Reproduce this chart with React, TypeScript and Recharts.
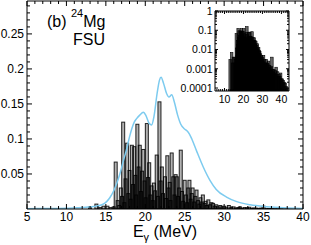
import { Bar, ComposedChart, Line, XAxis, YAxis } from "recharts"

const FONT = '"Liberation Sans", Arial, sans-serif'

// transitions: [E (MeV), strength]
const onsetLines: [number, number][] = [
  [13.0, 0.003], [13.8, 0.007], [14.3, 0.002], [14.7, 0.004], [15.2, 0.004], [15.6, 0.002],
  [16.0, 0.003], [16.25, 0.067], [16.5, 0.012], [16.7, 0.005], [16.9, 0.03], [17.05, 0.018],
  [17.2, 0.124], [17.35, 0.009], [17.5, 0.043], [17.7, 0.094], [17.85, 0.022], [18.0, 0.055],
  [18.15, 0.014], [18.3, 0.091], [18.45, 0.035], [18.6, 0.089], [18.75, 0.048], [18.85, 0.02],
]

const peakLines: [number, number][] = [
  [19.0, 0.121], [19.15, 0.06], [19.3, 0.091], [19.45, 0.025], [19.6, 0.054], [19.75, 0.085],
  [19.9, 0.04], [20.05, 0.016], [20.2, 0.122], [20.35, 0.045], [20.5, 0.066], [20.65, 0.02],
  [20.8, 0.033], [20.95, 0.012], [21.1, 0.037], [21.25, 0.026], [21.45, 0.077], [21.6, 0.018],
  [21.8, 0.153], [21.95, 0.04], [22.1, 0.06], [22.25, 0.022], [22.5, 0.046], [22.65, 0.015],
  [22.8, 0.076], [22.95, 0.03], [23.1, 0.038], [23.2, 0.012], [23.35, 0.08], [23.55, 0.046],
  [23.7, 0.02], [23.85, 0.049], [24.0, 0.046], [24.15, 0.018], [24.3, 0.03], [24.5, 0.084],
  [24.65, 0.025], [24.8, 0.011], [25.0, 0.041], [25.15, 0.02], [25.3, 0.009], [25.45, 0.03],
  [25.6, 0.041], [25.75, 0.014], [25.9, 0.022], [26.0, 0.03], [26.2, 0.01], [26.35, 0.018],
  [26.5, 0.027], [26.7, 0.012], [26.85, 0.007], [27.0, 0.016], [27.15, 0.01], [27.3, 0.02],
  [27.5, 0.008], [27.65, 0.011], [27.8, 0.005], [28.0, 0.013],
]

const tailLines: [number, number][] = [
  [28.2, 0.006], [28.4, 0.009], [28.6, 0.008], [28.8, 0.004], [29.0, 0.006], [29.2, 0.003],
  [29.5, 0.005], [29.7, 0.003], [30.0, 0.004], [30.3, 0.0025], [30.6, 0.005], [30.9, 0.002],
  [31.2, 0.003], [31.5, 0.0015], [31.8, 0.002], [32.0, 0.003], [32.3, 0.0012], [32.6, 0.002],
  [32.9, 0.0018], [33.2, 0.0025], [33.5, 0.001], [33.8, 0.0015], [34.1, 0.0012], [34.4, 0.0008],
  [34.7, 0.0013], [35.0, 0.004], [35.4, 0.0009], [35.7, 0.0007], [36.0, 0.0009], [36.4, 0.0006],
  [36.8, 0.0008], [37.2, 0.0012], [37.6, 0.0005], [38.0, 0.0007], [38.4, 0.0004], [38.8, 0.0005],
  [39.2, 0.0004], [39.6, 0.0006], [40.0, 0.0003], [40.5, 0.0003], [41.0, 0.00025], [41.5, 0.0002],
  [42.0, 0.00018], [42.5, 0.00012], [43.0, 0.0001],
]

// smoothed strength function
const envelope: [number, number][] = [
  [5, 0.0005], [8, 0.0007], [10, 0.001], [11.5, 0.0018], [12.5, 0.0025], [13.5, 0.0035],
  [14.5, 0.006], [15.1, 0.0105], [15.5, 0.016], [16, 0.026], [16.4, 0.037], [16.8, 0.051],
  [17.2, 0.068], [17.65, 0.086], [18, 0.103], [18.3, 0.115], [18.6, 0.124], [18.9, 0.129],
  [19.3, 0.134], [19.75, 0.138], [20.1, 0.133], [20.5, 0.122], [20.8, 0.12], [21.1, 0.132],
  [21.5, 0.165], [21.8, 0.184], [22.0, 0.188], [22.3, 0.18], [22.7, 0.165], [23.0, 0.16],
  [23.35, 0.163], [23.7, 0.152], [24.1, 0.134], [24.5, 0.121], [24.9, 0.115], [25.25, 0.112],
  [25.6, 0.107], [25.9, 0.1], [26.5, 0.083], [27.35, 0.06], [28.2, 0.041], [29, 0.028],
  [30.3, 0.017], [31.6, 0.0105], [33.3, 0.006], [35.4, 0.0033], [37.5, 0.0017], [40, 0.0008],
]

const X_TICKS = [5, 10, 15, 20, 25, 30, 35, 40]
const X_MINOR = [6, 7, 8, 9, 11, 12, 13, 14, 16, 17, 18, 19, 21, 22, 23, 24, 26, 27, 28, 29, 31, 32, 33, 34, 36, 37, 38, 39]
const Y_TICKS = [0.05, 0.1, 0.15, 0.2, 0.25]
const Y_MINOR = [0.01, 0.02, 0.03, 0.04, 0.06, 0.07, 0.08, 0.09, 0.11, 0.12, 0.13, 0.14, 0.16, 0.17, 0.18, 0.19, 0.21, 0.22, 0.23, 0.24, 0.26, 0.27, 0.28, 0.29]

const INSET_X_TICKS = [10, 20, 30, 40]
const INSET_X_MINOR = [6, 7, 8, 9, 11, 12, 13, 14, 15, 16, 17, 18, 19, 21, 22, 23, 24, 25, 26, 27, 28, 29, 31, 32, 33, 34, 35, 36, 37, 38, 39, 41, 42, 43]
const INSET_Y_TICKS = [0.0001, 0.001, 0.01, 0.1, 1]
const INSET_Y_MINOR = [
  0.0002, 0.0003, 0.0004, 0.0005, 0.0006, 0.0007, 0.0008, 0.0009,
  0.002, 0.003, 0.004, 0.005, 0.006, 0.007, 0.008, 0.009,
  0.02, 0.03, 0.04, 0.05, 0.06, 0.07, 0.08, 0.09,
  0.2, 0.3, 0.4, 0.5, 0.6, 0.7, 0.8, 0.9,
]

const transitions = [...onsetLines, ...peakLines, ...tailLines].map(([e, s]) => ({ e, s }))
const curve = envelope.map(([e, v]) => ({ e, v }))

const X_DOMAIN: [number, number] = [5, 40]
const Y_DOMAIN: [number, number] = [0, 0.297]
const INSET_X_DOMAIN: [number, number] = [5, 44]
const INSET_Y_DOMAIN: [number, number] = [0.00007, 1]

type Side = "bottom" | "top" | "left" | "right"

// inward tick marks; labels only on majors when showLabel
function makeTick(side: Side, majors: number[], majorLen: number, minorLen: number,
  fontSize: number, labelGap: number, showLabel: boolean) {
  return (props: any) => {
    const { x, y, payload } = props
    const v = payload.value
    const major = majors.includes(v)
    const len = major ? majorLen : minorLen
    let line
    if (side === "bottom") line = <line x1={x} x2={x} y1={y} y2={y - len} stroke="#000" />
    else if (side === "top") line = <line x1={x} x2={x} y1={y} y2={y + len} stroke="#000" />
    else if (side === "left") line = <line x1={x} x2={x + len} y1={y} y2={y} stroke="#000" />
    else line = <line x1={x} x2={x - len} y1={y} y2={y} stroke="#000" />
    let label = null
    if (showLabel && major) {
      if (side === "bottom")
        label = <text x={x} y={y + labelGap} textAnchor="middle" fontSize={fontSize} fontFamily={FONT} fill="#000">{String(v)}</text>
      else
        label = <text x={x - labelGap} y={y + fontSize * 0.36} textAnchor="end" fontSize={fontSize} fontFamily={FONT} fill="#000">{String(v)}</text>
    }
    return <g>{line}{label}</g>
  }
}

// fixed-width stick centred on the library's bar position
function makeStick(w: number, fill: string, stroke: string, sw: number) {
  return (props: any) => {
    const { x, y, width, height } = props
    if (!height || height <= 0) return <g />
    return <rect x={x + width / 2 - w / 2} y={y} width={w} height={height} fill={fill} stroke={stroke} strokeWidth={sw} />
  }
}

export default function App() {
  return (
    <div style={{ position: "absolute", left: 0, top: 0, width: 311, height: 245, background: "#fff" }}>
      <ComposedChart width={311} height={245} data={transitions} margin={{ top: 0, right: 0, bottom: 0, left: 0 }}>
        <XAxis xAxisId="b" orientation="bottom" type="number" dataKey="e" domain={X_DOMAIN} interval={0}
          ticks={[...X_TICKS, ...X_MINOR]} height={36} tickSize={0} tickMargin={0} tickLine={false}
          stroke="#000" tick={makeTick("bottom", X_TICKS, 5, 3, 12, 11.5, true)} allowDataOverflow />
        <XAxis xAxisId="t" orientation="top" type="number" dataKey="e" domain={X_DOMAIN} interval={0}
          ticks={[...X_TICKS, ...X_MINOR]} height={1} tickSize={0} tickMargin={0} tickLine={false}
          stroke="#000" tick={makeTick("top", X_TICKS, 5, 3, 12, 0, false)} allowDataOverflow />
        <YAxis yAxisId="l" orientation="left" type="number" domain={Y_DOMAIN} interval={0}
          ticks={[...Y_TICKS, ...Y_MINOR]} width={27} tickSize={0} tickMargin={0} tickLine={false}
          stroke="#000" tick={makeTick("left", Y_TICKS, 5, 3, 12, 3, true)} allowDataOverflow />
        <YAxis yAxisId="r" orientation="right" type="number" domain={Y_DOMAIN} interval={0}
          ticks={[...Y_TICKS, ...Y_MINOR]} width={8} tickSize={0} tickMargin={0} tickLine={false}
          stroke="#000" tick={makeTick("right", Y_TICKS, 5, 3, 12, 0, false)} allowDataOverflow />

        <Line data={curve} xAxisId="b" yAxisId="l" dataKey="v" type="monotone" stroke="#7dcbef"
          strokeWidth={1.5} dot={false} isAnimationActive={false} />
        <Bar xAxisId="b" yAxisId="l" dataKey="s" barSize={3}
          shape={makeStick(3, "rgba(0,0,0,0.3)", "rgba(0,0,0,0.85)", 1)} isAnimationActive={false} />

        <text x={47} y={27} fontSize={16} fontFamily={FONT} fill="#000">
          (b) <tspan dy={-10} fontSize={11}>24</tspan><tspan dy={10}>Mg</tspan>
        </text>
        <text x={73} y={45} fontSize={16} fontFamily={FONT} fill="#000">FSU</text>
        <text x={165} y={237} fontSize={16} fontFamily={FONT} fill="#000" textAnchor="middle">
          E<tspan dy={4} fontSize={11}>γ</tspan><tspan dy={-4}> (MeV)</tspan>
        </text>
      </ComposedChart>

      <div style={{ position: "absolute", left: 180, top: 0 }}>
        <ComposedChart width={120} height={110} data={transitions} margin={{ top: 0, right: 0, bottom: 0, left: 0 }}>
          <XAxis xAxisId="b" orientation="bottom" type="number" dataKey="e" domain={INSET_X_DOMAIN} interval={0}
            ticks={[...INSET_X_TICKS, ...INSET_X_MINOR]} height={19} tickSize={0} tickMargin={0} tickLine={false}
            stroke="#000" tick={makeTick("bottom", INSET_X_TICKS, 3, 2, 10.5, 11.5, true)} allowDataOverflow />
          <XAxis xAxisId="t" orientation="top" type="number" dataKey="e" domain={INSET_X_DOMAIN} interval={0}
            ticks={[...INSET_X_TICKS, ...INSET_X_MINOR]} height={11} tickSize={0} tickMargin={0} tickLine={false}
            stroke="#000" tick={makeTick("top", INSET_X_TICKS, 3, 2, 10.5, 0, false)} allowDataOverflow />
          <YAxis yAxisId="l" orientation="left" type="number" scale="log" domain={INSET_Y_DOMAIN} interval={0}
            ticks={[...INSET_Y_TICKS, ...INSET_Y_MINOR]} width={35} tickSize={0} tickMargin={0} tickLine={false}
            stroke="#000" tick={makeTick("left", INSET_Y_TICKS, 3, 2, 10.5, 2.5, true)} allowDataOverflow />
          <YAxis yAxisId="r" orientation="right" type="number" scale="log" domain={INSET_Y_DOMAIN} interval={0}
            ticks={[...INSET_Y_TICKS, ...INSET_Y_MINOR]} width={11} tickSize={0} tickMargin={0} tickLine={false}
            stroke="#000" tick={makeTick("right", INSET_Y_TICKS, 3, 2, 10.5, 0, false)} allowDataOverflow />

          <Bar xAxisId="b" yAxisId="l" dataKey="s" barSize={2}
            shape={makeStick(2.5, "rgba(0,0,0,0.6)", "#000", 0.6)} isAnimationActive={false} />
        </ComposedChart>
      </div>
    </div>
  )
}
